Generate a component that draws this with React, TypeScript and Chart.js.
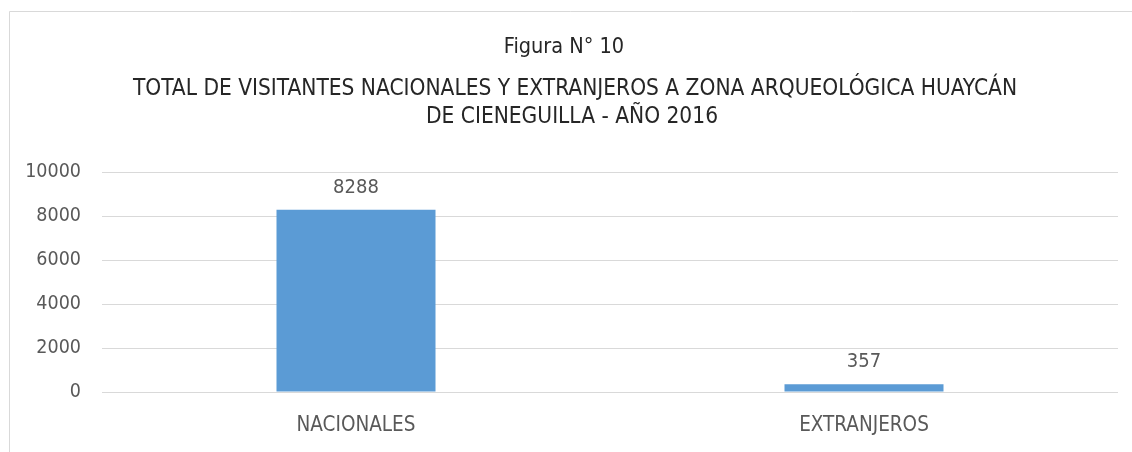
import React, { useEffect, useRef } from "react";
import { Chart, registerables } from "chart.js";

Chart.register(...registerables);

const categories = ["NACIONALES", "EXTRANJEROS"];
const visitors = [8288, 357];
const titleLines = [
  "Figura N° 10",
  "TOTAL DE VISITANTES NACIONALES Y EXTRANJEROS A ZONA ARQUEOLÓGICA HUAYCÁN",
  "DE CIENEGUILLA - AÑO 2016",
];
const yTicks = [0, 2000, 4000, 6000, 8000, 10000];

const FONT = "'Liberation Sans Narrow', 'Arial Narrow', 'DejaVu Sans Condensed', 'Open Sans', sans-serif";
const TEXT = "#595959";
const GRID = "#d9d9d9";
const BAR = "#5b9bd5";

const framePlugin = {
  id: "frame",
  beforeDraw(chart: any) {
    const ctx = chart.ctx;
    ctx.save();
    ctx.fillStyle = "#ffffff";
    ctx.fillRect(0, 0, chart.width, chart.height);
    ctx.strokeStyle = GRID;
    ctx.lineWidth = 1;
    ctx.beginPath();
    ctx.moveTo(9.5, chart.height);
    ctx.lineTo(9.5, 11.5);
    ctx.lineTo(chart.width, 11.5);
    ctx.stroke();
    ctx.restore();
  },
};

const titlePlugin = {
  id: "titleLines",
  afterDraw(chart: any) {
    const ctx = chart.ctx;
    const mid = (chart.chartArea.left + chart.chartArea.right) / 2;
    const centers = [mid - 46, mid - 35, mid - 38];
    const baselines = [53, 95, 123];
    const sizes = [21.5, 22.5, 22.5];
    ctx.save();
    ctx.fillStyle = "#262626";
    ctx.textAlign = "center";
    ctx.textBaseline = "alphabetic";
    titleLines.forEach((t, i) => {
      ctx.font = `${sizes[i]}px ${FONT}`;
      ctx.fillText(t, centers[i], baselines[i]);
    });
    ctx.restore();
  },
};

const valueLabelPlugin = {
  id: "valueLabels",
  afterDatasetsDraw(chart: any) {
    const ctx = chart.ctx;
    const meta = chart.getDatasetMeta(0);
    ctx.save();
    ctx.fillStyle = TEXT;
    ctx.font = `20px ${FONT}`;
    ctx.textAlign = "center";
    ctx.textBaseline = "alphabetic";
    meta.data.forEach((bar: any, i: number) => {
      ctx.fillText(String(chart.data.datasets[0].data[i]), bar.x, bar.y - 17);
    });
    ctx.restore();
  },
};

export default function App() {
  const ref = useRef<HTMLCanvasElement | null>(null);
  useEffect(() => {
    if (!ref.current) return;
    const chart = new Chart(ref.current, {
      type: "bar",
      data: {
        labels: categories,
        datasets: [
          {
            data: visitors,
            backgroundColor: BAR,
            barPercentage: 0.313,
            categoryPercentage: 1,
          },
        ],
      },
      options: {
        responsive: false,
        animation: false,
        layout: { padding: { top: 172, right: 14, bottom: 0, left: 0 } },
        plugins: {
          legend: { display: false },
          title: { display: false },
          tooltip: { enabled: false },
        },
        scales: {
          x: {
            grid: { display: false, drawTicks: false },
            border: { display: false },
            ticks: { color: TEXT, font: { family: FONT, size: 20.5 }, padding: 21 },
            afterFit(scale: any) {
              scale.height = 60;
            },
          },
          y: {
            min: 0,
            max: 10000,
            afterBuildTicks(scale: any) {
              scale.ticks = yTicks.map((v) => ({ value: v }));
            },
            grid: { color: GRID, lineWidth: 1, drawTicks: false },
            border: { display: false },
            ticks: {
              color: TEXT,
              font: { family: FONT, size: 19.5 },
              padding: 21,
              callback: (v: any) => String(v),
            },
            afterFit(scale: any) {
              scale.width = 102;
            },
          },
        },
      },
      plugins: [framePlugin, titlePlugin, valueLabelPlugin],
    });
    return () => chart.destroy();
  }, []);
  return (
    <div style={{ position: "absolute", left: 0, top: 0, width: 1132, height: 452 }}>
      <canvas ref={ref} width={1132} height={452} style={{ display: "block" }} />
    </div>
  );
}
